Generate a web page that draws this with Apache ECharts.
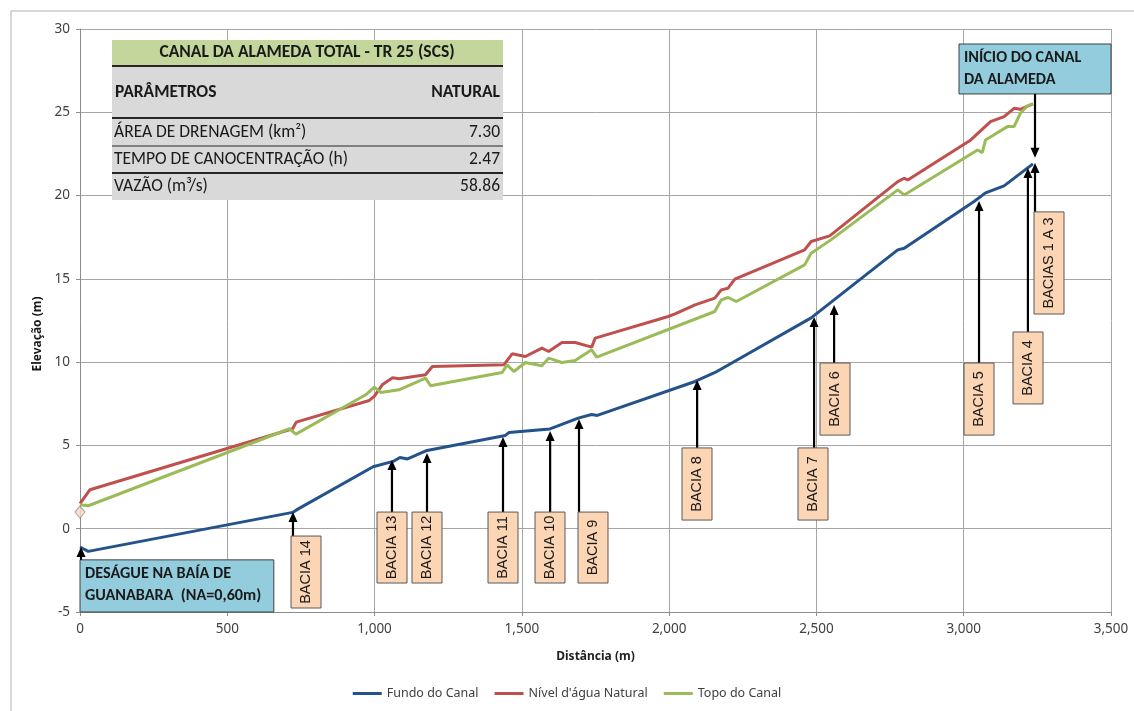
<!DOCTYPE html>
<html>
<head>
<meta charset="utf-8">
<script src="https://cdn.jsdelivr.net/npm/echarts@6/dist/echarts.min.js"></script>
<style>
  html, body { margin: 0; padding: 0; background: #fff; }
  #chart { width: 1134px; height: 711px; }
</style>
</head>
<body>
<div id="chart"></div>
<script>
// perfil longitudinal - Canal da Alameda (distância m, elevação m)
var fundoDoCanal = [
  [0, -1.1], [28, -1.36], [722, 0.98], [735, 1.13], [995, 3.72], [1063, 4.04], [1086, 4.28],
  [1112, 4.19], [1178, 4.7], [1444, 5.6], [1456, 5.77], [1595, 5.99], [1618, 6.14], [1691, 6.64],
  [1737, 6.86], [1756, 6.8], [2088, 8.84], [2156, 9.38], [2482, 12.66], [2776, 16.74],
  [2798, 16.84], [3035, 19.64], [3074, 20.16], [3137, 20.58], [3235, 21.9]
];
var nivelAguaNatural = [
  [0, 1.5], [34, 2.34], [722, 6.0], [734, 6.4], [982, 7.7], [999, 7.95], [1026, 8.64],
  [1061, 9.06], [1083, 9.0], [1173, 9.24], [1196, 9.74], [1439, 9.84], [1467, 10.5],
  [1512, 10.34], [1568, 10.84], [1591, 10.64], [1636, 11.18], [1681, 11.18], [1737, 10.9],
  [1749, 11.44], [1997, 12.74], [2020, 12.9], [2088, 13.44], [2155, 13.84], [2177, 14.34],
  [2200, 14.44], [2223, 14.98], [2460, 16.74], [2482, 17.24], [2545, 17.58], [2776, 20.84],
  [2798, 21.04], [2810, 20.94], [3024, 23.34], [3091, 24.44], [3137, 24.74], [3171, 25.24],
  [3192, 25.18], [3235, 25.5]
];
var topoDoCanal = [
  [0, 1.44], [28, 1.38], [711, 6.0], [733, 5.68], [970, 8.04], [999, 8.5], [1021, 8.18],
  [1083, 8.34], [1173, 9.04], [1190, 8.58], [1433, 9.38], [1450, 9.84], [1473, 9.44],
  [1512, 9.98], [1568, 9.78], [1591, 10.24], [1636, 9.98], [1681, 10.1], [1737, 10.74],
  [1754, 10.3], [2155, 13.04], [2177, 13.74], [2200, 13.88], [2228, 13.64], [2460, 15.84],
  [2482, 16.54], [2549, 17.34], [2776, 20.34], [2798, 20.04], [3047, 22.74], [3063, 22.58],
  [3074, 23.34], [3148, 24.14], [3171, 24.14], [3192, 24.94], [3216, 25.38], [3235, 25.5]
];
var pontoNA = [[0, 1.0]];

var legendNames = ['Fundo do Canal', "Nível d'água Natural", 'Topo do Canal'];
var tituloTabela = 'CANAL DA ALAMEDA TOTAL - TR 25 (SCS)';
var parametros = ['ÁREA DE DRENAGEM (km²)', 'TEMPO DE CANOCENTRAÇÃO (h)', 'VAZÃO (m³/s)'];
var valoresNatural = ['7.30', '2.47', '58.86'];

// bacias: nome, distância da seta, cota da ponta, topo/base da caixa (m), deslocamento da caixa (px)
var bacias = [
  ['BACIA 14', 723, 1.0, -0.44, -4.76, -2],
  ['BACIA 13', 1059, 4.12, 1.0, -3.26, -15],
  ['BACIA 12', 1178, 4.55, 1.0, -3.26, -15],
  ['BACIA 11', 1436, 5.51, 1.0, -3.26, -15],
  ['BACIA 10', 1596, 5.87, 1.0, -3.26, -15],
  ['BACIA 9', 1694, 6.59, 1.0, -3.26, -1],
  ['BACIA 8', 2095, 8.93, 4.85, 0.52, -15],
  ['BACIA 7', 2492, 12.71, 4.85, 0.52, -16],
  ['BACIA 6', 2560, 13.43, 9.95, 5.62, -14],
  ['BACIA 5', 3052, 19.67, 9.95, 5.62, -15],
  ['BACIA 4', 3218, 21.65, 11.81, 7.49, -15],
  ['BACIAS 1 A 3', 3242, 21.95, 19.02, 12.89, -1]
];

var chartDom = document.getElementById('chart');
var myChart = echarts.init(chartDom);
var labelFont = '"Noto Sans", "Open Sans", sans-serif';
var boxFont = 'Carlito, "Liberation Sans Narrow", "Open Sans", sans-serif';

var option = {
  backgroundColor: '#fff',
  animation: false,
  color: ['#24528A', '#C0504D', '#9BBB59'],
  grid: { left: 80, right: 23, top: 29, bottom: 99 },
  legend: {
    data: legendNames,
    bottom: 6,
    left: 'center',
    icon: 'rect',
    itemWidth: 29,
    itemHeight: 3,
    itemGap: 16,
    textStyle: { fontSize: 12.5, color: '#404040', fontFamily: labelFont }
  },
  xAxis: {
    type: 'value',
    min: 0, max: 3500, interval: 500,
    name: 'Distância (m)',
    nameLocation: 'middle',
    nameGap: 39,
    nameTextStyle: { fontSize: 12, fontWeight: 'bold', color: '#222', fontFamily: labelFont },
    axisLine: { onZero: false, lineStyle: { color: '#8c8c8c' } },
    axisTick: { show: true, length: 4, lineStyle: { color: '#8c8c8c' } },
    axisLabel: {
      fontSize: 13.5, color: '#404040', fontFamily: labelFont, margin: 10,
      formatter: function (v) { return v.toLocaleString('en-US'); }
    },
    splitLine: { show: true, lineStyle: { color: '#a6a6a6', width: 1 } }
  },
  yAxis: {
    type: 'value',
    min: -5, max: 30, interval: 5,
    axisLine: { show: true, lineStyle: { color: '#8c8c8c' } },
    axisTick: { show: true, length: 4, lineStyle: { color: '#8c8c8c' } },
    axisLabel: { fontSize: 13.5, color: '#404040', fontFamily: labelFont, margin: 10 },
    splitLine: { show: true, lineStyle: { color: '#a6a6a6', width: 1 } }
  },
  series: [
    { name: legendNames[0], type: 'line', data: fundoDoCanal, symbol: 'none', lineStyle: { width: 3 } },
    { name: legendNames[1], type: 'line', data: nivelAguaNatural, symbol: 'none', lineStyle: { width: 3 } },
    { name: legendNames[2], type: 'line', data: topoDoCanal, symbol: 'none', lineStyle: { width: 3 } },
    {
      name: 'NA', type: 'scatter', data: pontoNA, symbol: 'diamond', symbolSize: [10, 12],
      itemStyle: { color: '#F5DCC8', borderColor: '#A08A78', borderWidth: 1 }, z: 5
    }
  ]
};
myChart.setOption(option);

function px(x, y) {
  return myChart.convertToPixel({ xAxisIndex: 0, yAxisIndex: 0 }, [x, y]);
}

function arrow(x, yBase, yTip) {
  var dir = yTip < yBase ? -1 : 1;
  return [
    { type: 'line', shape: { x1: x, y1: yBase, x2: x, y2: yTip - dir * 8 },
      style: { stroke: '#000', lineWidth: 2.2 }, z: 100 },
    { type: 'polygon', shape: { points: [[x, yTip], [x - 4.5, yTip - dir * 10], [x + 4.5, yTip - dir * 10]] },
      style: { fill: '#000' }, z: 100 }
  ];
}

function txt(x, y, text, font, align, extra) {
  var el = {
    type: 'text', x: x, y: y, z: 110,
    style: { text: text, font: font, fill: '#1a1a1a', align: align, verticalAlign: 'middle',
             textAlign: align, textVerticalAlign: 'middle' }
  };
  if (extra) for (var k in extra) el[k] = extra[k];
  return el;
}

var g = [];
// moldura externa
g.push({ type: 'rect', shape: { x: 11, y: 11, width: 1140, height: 720 },
  style: { fill: 'none', stroke: '#b0b0b0', lineWidth: 1 }, z: 1 });

// título do eixo y (um pouco abaixo do centro, como no original)
g.push(txt(38, 334, 'Elevação (m)', 'bold 12px ' + labelFont, 'center', { rotation: Math.PI / 2 }));

// tabela de parâmetros
g.push({ type: 'rect', shape: { x: 112, y: 40, width: 391, height: 26 }, style: { fill: '#C3D69B' }, z: 90 });
g.push({ type: 'rect', shape: { x: 112, y: 66, width: 391, height: 134 }, style: { fill: '#D9D9D9' }, z: 90 });
[[66, 2], [118, 2], [146, 1], [173, 2]].forEach(function (l) {
  g.push({ type: 'line', shape: { x1: 112, y1: l[0], x2: 503, y2: l[0] },
    style: { stroke: '#262626', lineWidth: l[1] }, z: 95 });
});
g.push(txt(307, 53, tituloTabela, 'bold 17.5px ' + boxFont, 'center'));
g.push(txt(115, 93, 'PARÂMETROS', 'bold 17.5px ' + boxFont, 'left'));
g.push(txt(500, 93, 'NATURAL', 'bold 17.5px ' + boxFont, 'right'));
[133, 160, 187].forEach(function (y, i) {
  g.push(txt(114, y, parametros[i], '17.5px ' + boxFont, 'left'));
  g.push(txt(500, y, valoresNatural[i], '17.5px ' + boxFont, 'right'));
});

// caixas azuis
function blueBox(p1, p2, lines) {
  g.push({ type: 'rect', shape: { x: p1[0], y: p1[1], width: p2[0] - p1[0], height: p2[1] - p1[1] },
    style: { fill: '#93CDDD', stroke: '#404040', lineWidth: 1 }, z: 100 });
  lines.forEach(function (t, i) {
    g.push(txt(p1[0] + 5, p1[1] + 14 + i * 22, t, 'bold 16.2px ' + boxFont, 'left'));
  });
}
var d1 = px(0, -1.87), d2 = px(658, -5);
blueBox(d1, d2, ['DESÁGUE NA BAÍA DE', 'GUANABARA  (NA=0,60m)']);
g = g.concat(arrow(d1[0] + 1, d1[1], px(0, -1.1)[1]));

var i1 = px(2984, 29.1), i2 = px(3500, 26.1);
blueBox(i1, i2, ['INÍCIO DO CANAL', 'DA ALAMEDA']);
var ia = px(3242, 22.27);
g = g.concat(arrow(ia[0], i2[1], ia[1]));

// caixas das bacias
bacias.forEach(function (b) {
  var tip = px(b[1], b[2]);
  var top = px(b[1], b[3])[1];
  var bot = px(b[1], b[4])[1];
  var left = Math.round(tip[0] + b[5]);
  g = g.concat(arrow(tip[0], top, tip[1]));
  g.push({ type: 'rect', shape: { x: left, y: top, width: 30, height: bot - top },
    style: { fill: '#FCD5B5', stroke: '#595959', lineWidth: 1 }, z: 100 });
  g.push(txt(left + 15, (top + bot) / 2, b[0], '14.5px "Liberation Sans", Arial, sans-serif', 'center',
    { rotation: Math.PI / 2 }));
});

myChart.setOption({ graphic: g });
window.addEventListener('resize', myChart.resize);
</script>
</body>
</html>
